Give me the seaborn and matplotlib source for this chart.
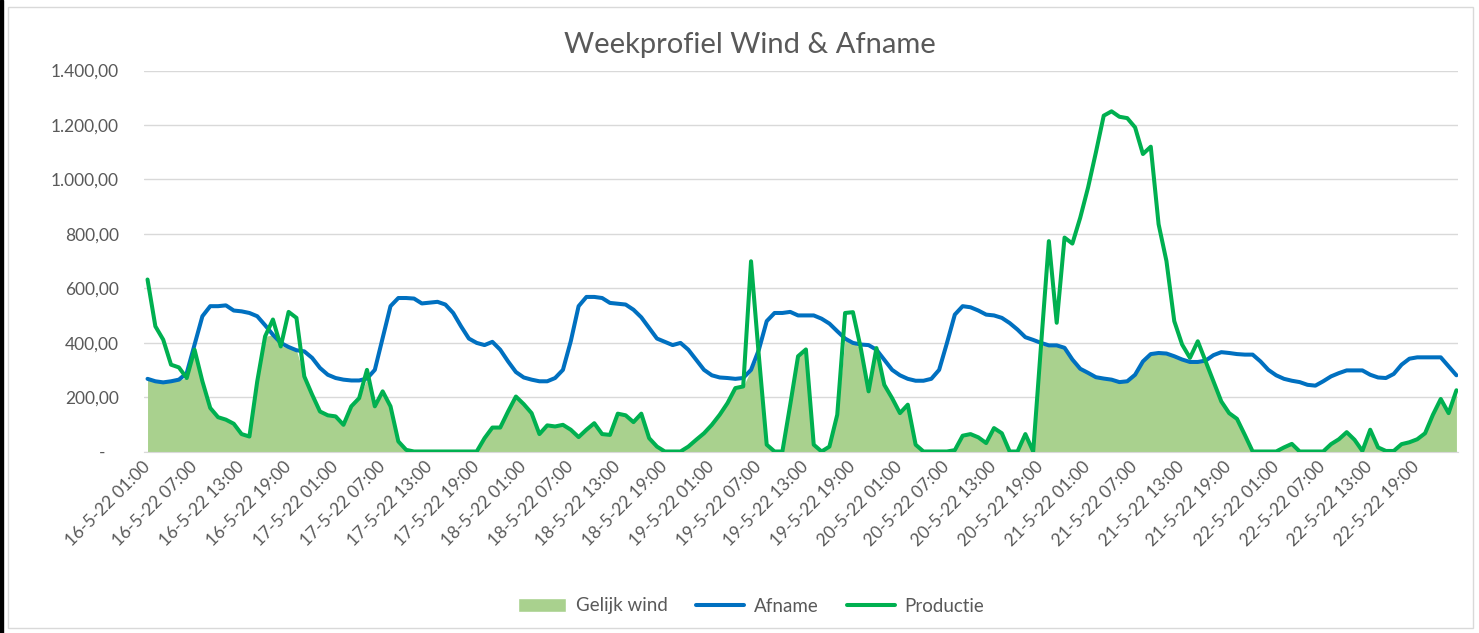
import numpy as np
import pandas as pd
import matplotlib.pyplot as plt
import seaborn as sns
from matplotlib.patches import Patch, Rectangle
from matplotlib.lines import Line2D
from matplotlib.ticker import FuncFormatter

# uurwaarden 16-5-22 01:00 t/m 23-5-22 00:00
afname = [267, 258, 254, 258, 264, 288, 393, 497, 534, 534, 537, 518, 515, 509, 497, 464,
          429, 399, 384, 372, 368, 344, 307, 282, 270, 264, 261, 261, 268, 300, 417, 534,
          564, 564, 562, 544, 547, 550, 540, 509, 460, 415, 399, 391, 403, 374, 331, 292,
          272, 264, 258, 258, 270, 300, 405, 534, 568, 568, 564, 546, 543, 540, 521, 493,
          454, 415, 403, 391, 399, 374, 337, 300, 280, 272, 270, 267, 270, 300, 374, 479,
          509, 509, 513, 500, 500, 500, 488, 470, 442, 415, 399, 393, 391, 374, 337, 300,
          280, 267, 260, 260, 267, 300, 399, 503, 534, 530, 518, 503, 500, 491, 472, 448,
          420, 410, 399, 390, 390, 381, 338, 304, 289, 273, 268, 264, 255, 258, 282, 331,
          358, 362, 360, 350, 338, 329, 329, 334, 354, 365, 362, 358, 356, 356, 331, 300,
          280, 267, 260, 255, 245, 242, 258, 276, 288, 298, 298, 298, 282, 272, 270, 285,
          319, 341, 346, 346, 346, 346, 313, 280]
productie = [632, 460, 411, 319, 309, 270, 374, 258, 160, 126, 117, 102, 64, 55, 258, 423,
             485, 386, 513, 491, 276, 209, 147, 133, 129, 98, 166, 196, 300, 166, 221, 166,
             37, 6, 0, 0, 0, 0, 0, 0, 0, 0, 0, 49, 88, 88, 147, 202,
             174, 141, 64, 96, 92, 98, 80, 53, 80, 104, 64, 61, 139, 133, 108, 139,
             49, 18, 0, 0, 0, 18, 43, 67, 98, 135, 178, 233, 239, 699, 350, 25,
             0, 0, 172, 350, 375, 25, 0, 18, 135, 509, 512, 380, 221, 380, 245, 196,
             141, 172, 25, 0, 0, 0, 0, 5, 58, 64, 52, 31, 86, 67, 0, 0,
             64, 0, 390, 773, 473, 786, 764, 859, 970, 1099, 1234, 1250, 1230, 1225, 1191, 1093,
             1120, 835, 700, 479, 393, 344, 405, 331, 258, 184, 141, 120, 61, 0, 0, 0,
             0, 15, 28, 0, 0, 0, 0, 27, 45, 71, 43, 2, 80, 15, 2, 2,
             27, 34, 45, 67, 135, 193, 141, 225]

tijden = pd.date_range('2022-05-16 01:00', periods=len(afname), freq='h')
labels = [f"{t.day}-{t.month}-{t:%y %H:%M}" for t in tijden]

df = pd.DataFrame({'uur': np.arange(len(afname)), 'Afname': afname, 'Productie': productie})
df['Gelijk wind'] = df[['Afname', 'Productie']].min(axis=1)

sns.set_style('white')
plt.rcParams['font.family'] = ['Lato', 'DejaVu Sans']

W, H = 1479, 633
fig = plt.figure(figsize=(W / 100, H / 100), dpi=100)
ax = fig.add_axes([144 / W, 1 - 451.5 / H, (1458 - 144) / W, (451.5 - 70.5) / H])

grijs = '#595959'
ax.fill_between(df['uur'], 0, df['Gelijk wind'], color='#a9d18e', lw=0, zorder=2)
sns.lineplot(data=df, x='uur', y='Afname', ax=ax, color='#0070c0', lw=2.9,
             solid_capstyle='round', solid_joinstyle='round', zorder=3)
sns.lineplot(data=df, x='uur', y='Productie', ax=ax, color='#00b050', lw=2.9,
             solid_capstyle='round', solid_joinstyle='round', zorder=4)

ax.set_xlabel('')
ax.set_ylabel('')
ax.set_ylim(0, 1400)
ax.set_yticks(range(0, 1401, 200))


def nl_fmt(v, pos):
    if v == 0:
        return '-   '
    return f"{v:,.2f}".replace(',', 'X').replace('.', ',').replace('X', '.')


ax.yaxis.set_major_formatter(FuncFormatter(nl_fmt))
ax.grid(axis='y', color='#d9d9d9', lw=1, zorder=0)
ax.set_axisbelow(True)
ax.tick_params(axis='y', length=0, pad=18, labelsize=12.5, labelcolor=grijs)

ax.set_xlim(-0.45, 167.2)
ax.set_xticks(df['uur'][::6])
ax.set_xticklabels(labels[::6], rotation=45, ha='right', va='center', rotation_mode='anchor')
ax.set_xticks(np.arange(-0.45, 167.3, 2 / 3), minor=True)
ax.tick_params(axis='x', which='major', length=0, pad=9, labelsize=12.5, labelcolor=grijs)
ax.tick_params(axis='x', which='minor', length=4, width=1, color='#d0d0d0')

for s in ['left', 'top', 'right']:
    ax.spines[s].set_visible(False)
ax.spines['bottom'].set_color('#d9d9d9')

fig.text(750 / W, 1 - 45 / H, 'Weekprofiel Wind & Afname', ha='center', va='center',
         fontsize=21, color=grijs)

handles = [Patch(facecolor='#a9d18e', label='Gelijk wind'),
           Line2D([], [], color='#0070c0', lw=2.9, solid_capstyle='round', label='Afname'),
           Line2D([], [], color='#00b050', lw=2.9, solid_capstyle='round', label='Productie')]
fig.legend(handles=handles, loc='center', bbox_to_anchor=(751 / W, 1 - 606 / H), ncol=3,
           frameon=False, fontsize=13.5, labelcolor=grijs, handlelength=2.6,
           columnspacing=1.5, handletextpad=0.5)

# rand van de grafiek
fig.patches.append(Rectangle((8 / W, 5 / H), (1473 - 8) / W, (626 - 5) / H, transform=fig.transFigure,
                             fill=False, edgecolor='#d9d9d9', lw=1))
fig.patches.append(Rectangle((0, 0), 3 / W, 1, transform=fig.transFigure, color='black'))

fig.savefig('out.png', dpi=100)
